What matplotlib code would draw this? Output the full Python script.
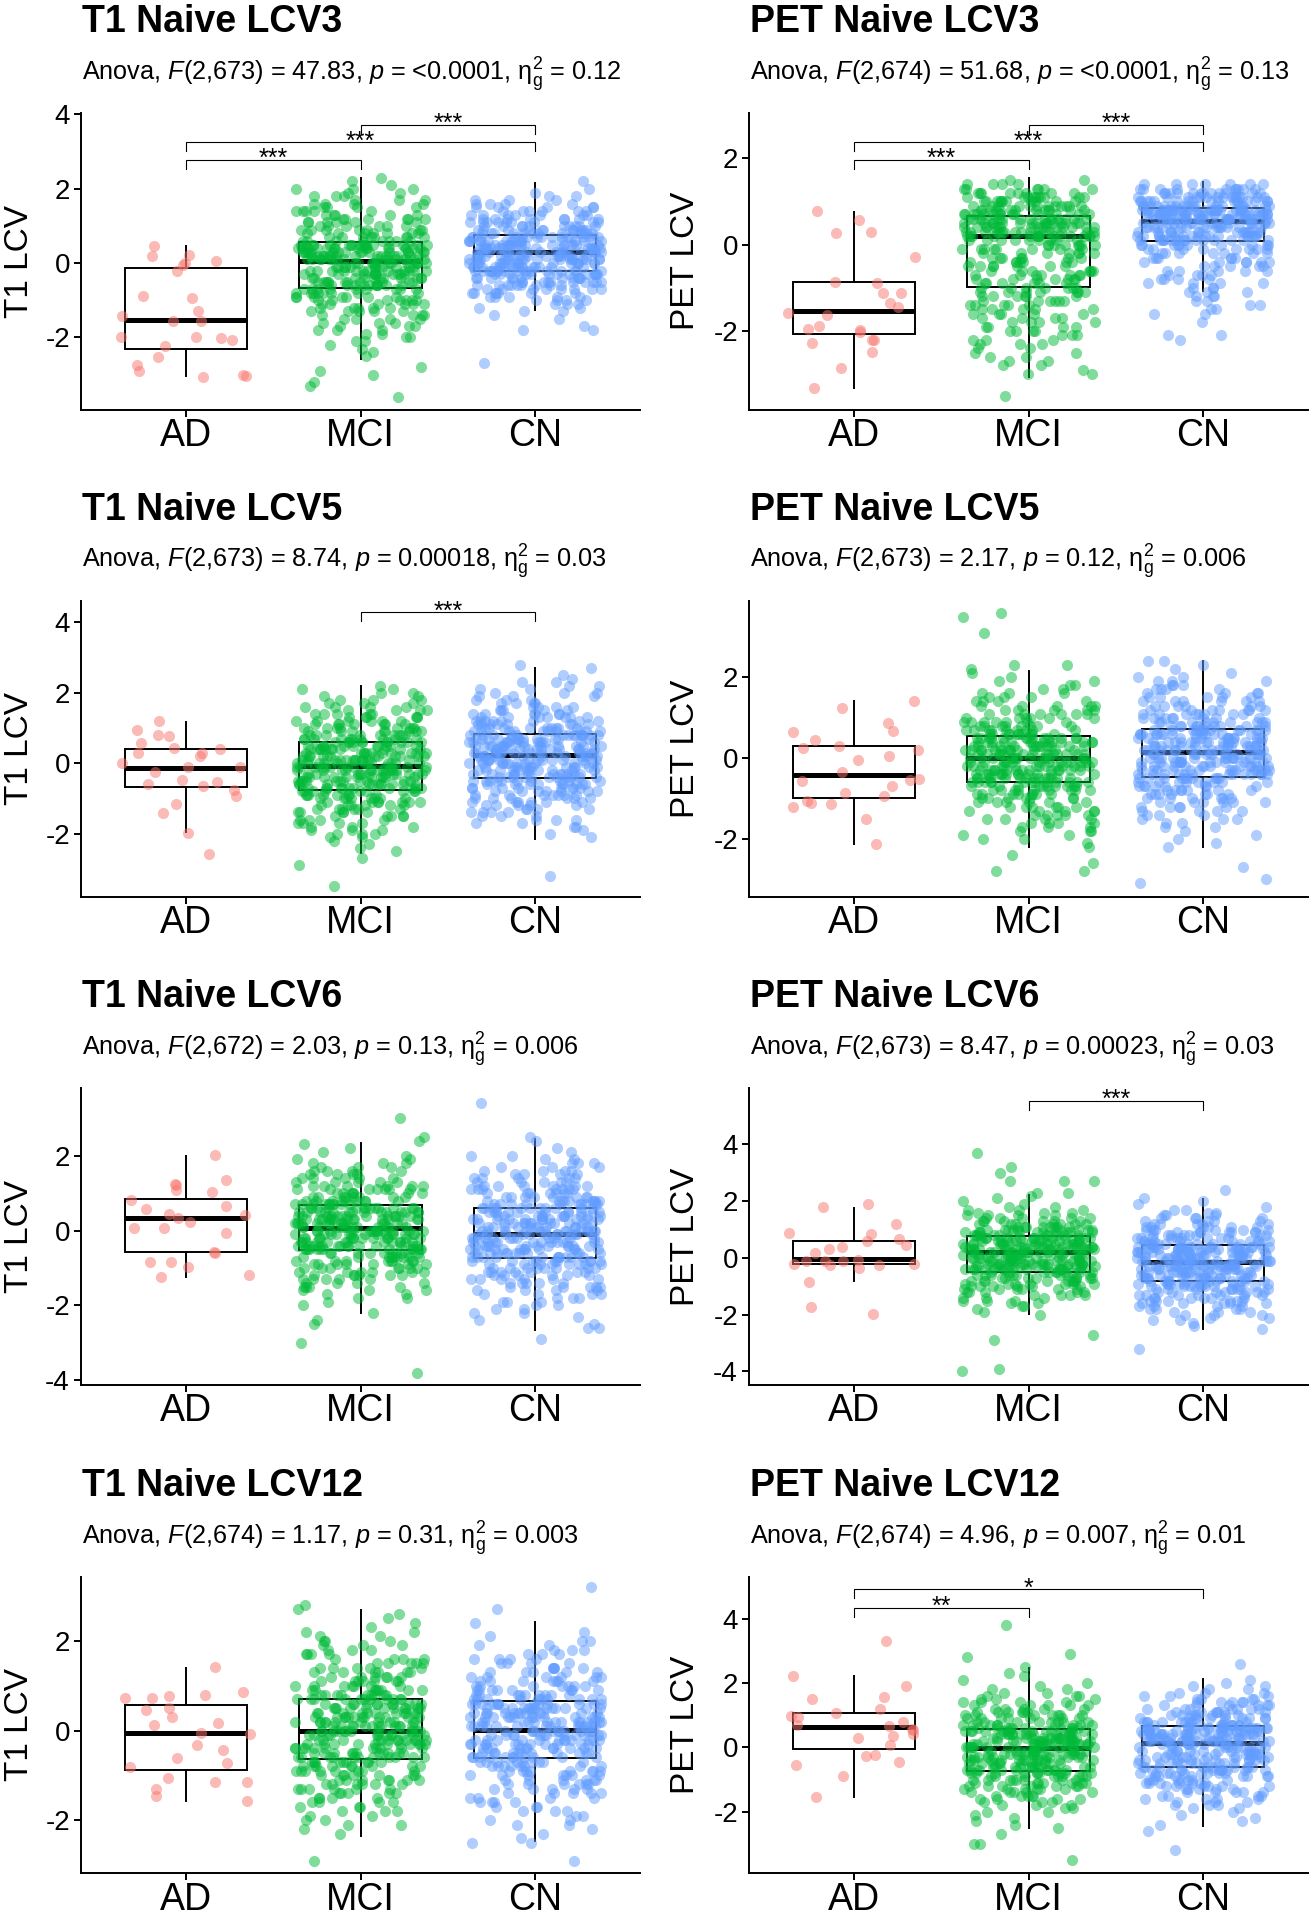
import matplotlib
matplotlib.use("Agg")
import matplotlib.pyplot as plt
import numpy as np

plt.rcParams['font.family'] = ['Liberation Sans', 'DejaVu Sans']
plt.rcParams['mathtext.fontset'] = 'custom'
plt.rcParams['mathtext.rm'] = 'Liberation Sans'
plt.rcParams['mathtext.it'] = 'Liberation Sans:italic'
plt.rcParams['mathtext.bf'] = 'Liberation Sans:bold'
plt.rcParams['axes.unicode_minus'] = False

groups = ["AD", "MCI", "CN"]
group_colors = ["#F8766D", "#00BA38", "#619CFF"]

# AD values are individual points; MCI/CN values are (value, number of points at that value)

# ---------------- T1 Naive LCV3 ----------------
t1_lcv3_ad = [0.47, -0.20, -0.93, 0.07, -0.89, 0.18, 0.00, -0.04, 0.21, -1.42, -1.28, -1.56, -1.55, -2.07,
              -2.22, -2.00, -2.02, -1.98, -2.54, -2.74, -2.90, -3.04, -3.06, -3.02]
t1_lcv3_mci = [(2.3,1),(2.2,1),(2.1,1),(2.0,3),(1.9,2),(1.8,3),(1.7,3),(1.6,4),(1.5,4),(1.4,5),(1.3,5),(1.2,6),
               (1.1,6),(1.0,6),(0.9,7),(0.8,7),(0.7,8),(0.6,8),
               (0.5,16),(0.4,16),(0.3,16),(0.2,16),(0.1,16),
               (0.0,12),(-0.1,12),(-0.2,12),(-0.3,11),(-0.4,11),(-0.5,11),(-0.6,11),
               (-0.7,9),(-0.8,8),(-0.9,7),(-1.0,7),(-1.1,6),(-1.2,5),(-1.3,5),(-1.4,4),(-1.5,4),(-1.6,3),(-1.7,3),
               (-1.8,3),(-1.9,2),(-2.0,2),(-2.1,2),(-2.2,1),(-2.3,1),(-2.4,1),(-2.5,1),(-2.8,1),(-2.9,1),(-3.0,1),
               (-3.2,1),(-3.3,1),(-3.6,1)]
t1_lcv3_cn = [(2.2,1),(2.0,1),(1.9,1),(1.8,2),(1.7,3),(1.6,4),(1.5,5),(1.4,6),(1.3,7),(1.2,8),(1.1,9),(1.0,10),
              (0.9,11),(0.8,12),
              (0.7,16),(0.6,16),(0.5,16),(0.4,16),(0.3,16),
              (0.2,16),(0.1,16),(0.0,16),(-0.1,16),(-0.2,16),
              (-0.3,13),(-0.4,11),(-0.5,10),(-0.6,9),(-0.7,8),(-0.8,7),(-0.9,5),(-1.0,4),(-1.1,3),(-1.2,2),(-1.3,2),
              (-1.4,1),(-1.5,1),(-1.7,1),(-1.8,2),(-2.7,1)]
# box stats per group: (lower whisker, Q1, median, Q3, upper whisker)
t1_lcv3_box = [(-3.04, -2.31, -1.53, -0.13, 0.45), (-2.58, -0.68, 0.05, 0.58, 2.29), (-1.26, -0.22, 0.30, 0.76, 2.16)]

# ---------------- PET Naive LCV3 ----------------
pet_lcv3_ad = [0.27, 0.78, 0.58, 0.29, -0.28, -1.11, -1.35, -0.89, -0.86, -1.12, -1.45, -1.58, -1.63, -1.95,
               -1.88, -2.03, -2.20, -2.22, -1.97, -2.29, -2.49, -2.86, -3.32]
pet_lcv3_mci = [(1.5,2),(1.4,4),(1.3,6),(1.2,8),(1.1,10),(1.0,11),(0.9,12),(0.8,13),(0.7,14),
                (0.6,16),(0.5,16),(0.4,16),(0.3,16),(0.2,16),
                (0.1,9),(0.0,8),(-0.1,8),(-0.2,7),(-0.3,7),(-0.4,7),(-0.5,7),(-0.6,7),(-0.7,7),(-0.8,7),(-0.9,6),
                (-1.0,7),(-1.1,7),(-1.2,6),(-1.3,6),(-1.4,5),(-1.5,5),(-1.6,5),(-1.7,4),(-1.8,4),(-1.9,4),(-2.0,4),
                (-2.1,3),(-2.2,3),(-2.3,3),(-2.4,2),(-2.5,2),(-2.6,2),(-2.7,2),(-2.8,2),(-2.9,1),(-3.0,2),(-3.5,1)]
pet_lcv3_cn = [(1.4,7),(1.3,10),(1.2,13),(1.1,15),(1.0,17),(0.9,18),
               (0.8,27),(0.7,27),(0.6,26),
               (0.5,16),(0.4,16),(0.3,16),(0.2,16),(0.1,16),
               (0.0,10),(-0.1,8),(-0.2,7),(-0.3,6),(-0.4,6),(-0.5,5),(-0.6,5),(-0.7,4),(-0.8,4),(-0.9,4),(-1.0,3),
               (-1.1,3),(-1.2,3),(-1.3,2),(-1.4,2),(-1.5,2),(-1.6,2),(-1.8,1),(-2.1,2),(-2.2,1)]
pet_lcv3_box = [(-3.32, -2.08, -1.54, -0.87, 0.76), (-3.07, -0.98, 0.19, 0.66, 1.54), (-1.07, 0.08, 0.54, 0.85, 1.44)]

# ---------------- T1 Naive LCV5 ----------------
t1_lcv5_ad = [0.30, 0.21, 0.76, -0.47, -0.64, -0.93, -0.76, -0.54, -0.11, -0.26, 0.30, 0.00, 0.80, 0.42,
              0.40, -0.11, -0.59, 1.21, 0.93, 0.57, -1.16, -1.42, -1.99, -2.58]
t1_lcv5_mci = [(2.2,1),(2.1,2),(2.0,2),(1.9,2),(1.8,3),(1.7,3),(1.6,4),(1.5,4),(1.4,5),(1.3,6),(1.2,6),(1.1,7),
               (1.0,8),(0.9,8),(0.8,9),(0.7,10),
               (0.6,11),(0.5,11),(0.4,11),(0.3,11),(0.2,12),(0.1,12),(0.0,12),
               (-0.1,12),(-0.2,12),(-0.3,12),(-0.4,11),(-0.5,11),(-0.6,11),(-0.7,11),
               (-0.8,9),(-0.9,8),(-1.0,8),(-1.1,7),(-1.2,6),(-1.3,6),(-1.4,5),(-1.5,5),(-1.6,4),(-1.7,4),(-1.8,3),
               (-1.9,3),(-2.0,3),(-2.1,2),(-2.2,1),(-2.3,1),(-2.4,1),(-2.5,1),(-2.7,1),(-2.9,1),(-3.5,1)]
t1_lcv5_cn = [(2.8,1),(2.7,1),(2.5,1),(2.4,1),(2.3,2),(2.2,2),(2.1,2),(2.0,3),(1.9,3),(1.8,3),(1.7,4),(1.6,4),
              (1.5,5),(1.4,6),(1.3,7),(1.2,8),(1.1,8),(1.0,9),(0.9,10),
              (0.8,14),(0.7,13),(0.6,13),(0.5,13),(0.4,13),(0.3,14),
              (0.2,12),(0.1,12),(0.0,12),(-0.1,11),(-0.2,11),(-0.3,11),(-0.4,11),
              (-0.5,10),(-0.6,9),(-0.7,8),(-0.8,7),(-0.9,7),(-1.0,6),(-1.1,6),(-1.2,5),(-1.3,4),(-1.4,4),(-1.5,3),
              (-1.6,3),(-1.7,2),(-1.8,2),(-1.9,1),(-2.0,1),(-2.1,1),(-3.2,1)]
t1_lcv5_box = [(-1.94, -0.68, -0.14, 0.41, 1.17), (-2.54, -0.76, -0.07, 0.61, 2.19), (-2.15, -0.43, 0.24, 0.83, 2.70)]

# ---------------- PET Naive LCV5 ----------------
pet_lcv5_ad = [1.42, 1.25, 0.87, 0.45, 0.06, -0.56, -1.11, -1.51, -0.55, -0.68, -0.51, -0.95, 0.24, -0.34,
               0.68, 0.64, 0.29, 0.19, -0.04, -0.87, -1.13, -1.22, -1.06, -2.12]
pet_lcv5_mci = [(3.6,1),(3.5,1),(3.1,1),(2.3,2),(2.2,1),(2.1,1),(2.0,1),(1.9,2),(1.8,2),(1.7,2),(1.6,3),(1.5,3),
                (1.4,4),(1.3,5),(1.2,5),(1.1,6),(1.0,6),(0.9,7),(0.8,8),(0.7,9),(0.6,10),
                (0.5,13),(0.4,14),(0.3,13),(0.2,13),(0.1,14),(0.0,13),
                (-0.1,13),(-0.2,14),(-0.3,13),(-0.4,13),(-0.5,14),(-0.6,13),
                (-0.7,10),(-0.8,9),(-0.9,8),(-1.0,7),(-1.1,6),(-1.2,6),(-1.3,5),(-1.4,5),(-1.5,4),(-1.6,4),
                (-1.7,3),(-1.8,3),(-1.9,2),(-2.0,2),(-2.1,1),(-2.2,1),(-2.4,1),(-2.6,1),(-2.8,2)]
pet_lcv5_cn = [(2.4,2),(2.3,1),(2.2,1),(2.1,1),(2.0,2),(1.9,3),(1.8,3),(1.7,4),(1.6,4),(1.5,5),(1.4,6),(1.3,6),
               (1.2,7),(1.1,8),(1.0,8),(0.9,9),(0.8,10),
               (0.7,13),(0.6,14),(0.5,13),(0.4,14),(0.3,13),(0.2,13),
               (0.1,13),(0.0,14),(-0.1,13),(-0.2,13),(-0.3,14),(-0.4,13),
               (-0.5,10),(-0.6,9),(-0.7,8),(-0.8,7),(-0.9,7),(-1.0,6),(-1.1,6),(-1.2,5),(-1.3,4),(-1.4,3),(-1.5,3),
               (-1.6,2),(-1.7,2),(-1.8,1),(-1.9,1),(-2.0,1),(-2.1,1),(-2.2,1),(-2.7,1),(-3.0,1),(-3.1,1)]
pet_lcv5_box = [(-2.12, -0.99, -0.41, 0.31, 1.40), (-2.21, -0.59, 0.00, 0.54, 2.16), (-2.19, -0.48, 0.14, 0.72, 2.39)]

# ---------------- T1 Naive LCV6 ----------------
t1_lcv6_ad = [2.02, 1.35, 1.08, 1.24, 1.21, 1.03, 0.82, 0.66, 0.42, 0.57, 0.33, 0.44, 0.24, 0.06, 0.06,
              -0.07, -0.60, -0.56, -0.83, -0.83, -0.98, -1.18, -1.23]
t1_lcv6_mci = [(3.0,1),(2.5,1),(2.4,1),(2.3,1),(2.2,1),(2.1,1),(2.0,1),(1.9,2),(1.8,3),(1.7,3),(1.6,4),(1.5,4),
               (1.4,5),(1.3,5),(1.2,6),(1.1,7),(1.0,7),(0.9,8),(0.8,9),(0.7,10),
               (0.6,13),(0.5,14),(0.4,13),(0.3,13),(0.2,14),(0.1,13),
               (0.0,13),(-0.1,14),(-0.2,13),(-0.3,13),(-0.4,14),(-0.5,13),
               (-0.6,10),(-0.7,9),(-0.8,8),(-0.9,7),(-1.0,7),(-1.1,6),(-1.2,6),(-1.3,5),(-1.4,4),(-1.5,4),(-1.6,3),
               (-1.7,2),(-1.8,2),(-1.9,1),(-2.0,1),(-2.2,1),(-2.4,1),(-2.5,1),(-3.0,1),(-3.8,1)]
t1_lcv6_cn = [(3.4,1),(2.5,1),(2.4,1),(2.2,1),(2.1,1),(2.0,2),(1.9,2),(1.8,3),(1.7,3),(1.6,4),(1.5,4),(1.4,5),
              (1.3,5),(1.2,6),(1.1,7),(1.0,7),(0.9,8),(0.8,9),(0.7,10),
              (0.6,11),(0.5,11),(0.4,11),(0.3,11),(0.2,12),(0.1,12),(0.0,12),
              (-0.1,12),(-0.2,12),(-0.3,12),(-0.4,11),(-0.5,11),(-0.6,11),(-0.7,11),
              (-0.8,9),(-0.9,8),(-1.0,8),(-1.1,7),(-1.2,6),(-1.3,6),(-1.4,5),(-1.5,5),(-1.6,4),(-1.7,4),(-1.8,3),
              (-1.9,3),(-2.0,2),(-2.1,2),(-2.2,2),(-2.3,1),(-2.4,1),(-2.5,1),(-2.6,2),(-2.9,1)]
t1_lcv6_box = [(-1.23, -0.58, 0.33, 0.85, 2.00), (-2.20, -0.52, 0.06, 0.68, 2.33), (-2.65, -0.72, -0.10, 0.60, 2.44)]

# ---------------- PET Naive LCV6 ----------------
pet_lcv6_ad = [1.91, 1.78, 1.21, 0.67, 0.33, 0.88, 0.47, 0.59, 0.86, 0.39, 0.18, -0.09, -0.06, -0.12, -0.35,
               -0.26, -0.26, -0.12, -0.23, -0.23, -0.84, -1.72, -1.97]
pet_lcv6_mci = [(3.7,1),(3.2,1),(3.0,1),(2.7,3),(2.3,2),(2.2,1),(2.1,1),(2.0,1),(1.9,1),(1.8,2),(1.7,3),(1.6,3),
                (1.5,4),(1.4,5),(1.3,6),(1.2,7),(1.1,8),(1.0,9),(0.9,10),(0.8,11),
                (0.7,13),(0.6,14),(0.5,13),(0.4,13),(0.3,14),(0.2,13),
                (0.1,13),(0.0,14),(-0.1,13),(-0.2,13),(-0.3,14),(-0.4,13),
                (-0.5,10),(-0.6,9),(-0.7,8),(-0.8,8),(-0.9,7),(-1.0,6),(-1.1,6),(-1.2,5),(-1.3,4),(-1.4,3),
                (-1.5,3),(-1.6,2),(-1.7,2),(-1.8,1),(-1.9,1),(-2.0,1),(-2.7,1),(-2.9,1),(-3.9,1),(-4.0,1)]
pet_lcv6_cn = [(2.4,1),(2.1,1),(2.0,1),(1.9,1),(1.8,1),(1.7,2),(1.6,2),(1.5,3),(1.4,4),(1.3,4),(1.2,5),(1.1,6),
               (1.0,6),(0.9,7),(0.8,8),(0.7,9),(0.6,9),(0.5,10),
               (0.4,13),(0.3,14),(0.2,13),(0.1,13),(0.0,14),(-0.1,13),
               (-0.2,12),(-0.3,12),(-0.4,12),(-0.5,11),(-0.6,11),(-0.7,11),(-0.8,11),
               (-0.9,10),(-1.0,9),(-1.1,8),(-1.2,7),(-1.3,7),(-1.4,6),(-1.5,6),(-1.6,5),(-1.7,4),(-1.8,4),(-1.9,3),
               (-2.0,3),(-2.1,2),(-2.2,2),(-2.3,1),(-2.4,1),(-2.5,1),(-3.2,1)]
pet_lcv6_box = [(-0.82, -0.23, -0.03, 0.61, 1.76), (-1.97, -0.49, 0.20, 0.76, 2.23), (-2.52, -0.80, -0.15, 0.45, 2.08)]

# ---------------- T1 Naive LCV12 ----------------
t1_lcv12_ad = [1.41, 0.86, 0.78, 0.73, 0.50, 0.45, 0.17, 0.12, -0.05, 0.80, 0.73, 0.30, -0.07, -0.33, -0.44,
               -0.61, -0.81, -0.72, -1.05, -1.15, -1.31, -1.15, -1.47, -1.57]
t1_lcv12_mci = [(2.8,1),(2.7,1),(2.6,1),(2.5,1),(2.4,1),(2.3,1),(2.2,2),(2.1,2),(2.0,3),(1.9,3),(1.8,3),(1.7,4),
                (1.6,4),(1.5,5),(1.4,5),(1.3,6),(1.2,6),(1.1,7),(1.0,7),(0.9,8),(0.8,9),
                (0.7,11),(0.6,11),(0.5,11),(0.4,11),(0.3,12),(0.2,12),(0.1,12),
                (0.0,12),(-0.1,12),(-0.2,12),(-0.3,11),(-0.4,11),(-0.5,11),(-0.6,11),
                (-0.7,9),(-0.8,9),(-0.9,8),(-1.0,7),(-1.1,7),(-1.2,6),(-1.3,6),(-1.4,5),(-1.5,4),(-1.6,4),(-1.7,3),
                (-1.8,3),(-1.9,2),(-2.0,2),(-2.1,2),(-2.2,1),(-2.3,1),(-2.9,1)]
t1_lcv12_cn = [(3.2,1),(2.7,1),(2.4,1),(2.2,1),(2.1,1),(2.0,2),(1.9,2),(1.8,3),(1.7,3),(1.6,4),(1.5,4),(1.4,5),
               (1.3,5),(1.2,6),(1.1,7),(1.0,7),(0.9,8),(0.8,9),(0.7,10),
               (0.6,13),(0.5,14),(0.4,13),(0.3,13),(0.2,14),(0.1,13),
               (0.0,12),(-0.1,12),(-0.2,12),(-0.3,11),(-0.4,11),(-0.5,11),(-0.6,11),
               (-0.7,9),(-0.8,8),(-0.9,8),(-1.0,7),(-1.1,6),(-1.2,6),(-1.3,5),(-1.4,5),(-1.5,4),(-1.6,4),(-1.7,3),
               (-1.8,3),(-1.9,2),(-2.0,2),(-2.1,2),(-2.2,1),(-2.3,1),(-2.4,1),(-2.5,2),(-2.9,1)]
t1_lcv12_box = [(-1.57, -0.87, -0.05, 0.56, 1.39), (-2.35, -0.63, 0.00, 0.71, 2.69), (-2.47, -0.61, 0.02, 0.67, 2.41)]

# ---------------- PET Naive LCV12 ----------------
pet_lcv12_ad = [3.30, 2.23, 1.92, 1.50, 1.55, 1.06, 0.93, 0.98, 1.19, 0.79, 0.53, 0.34, 0.41, 0.70, 0.57, 0.67,
                0.29, 0.06, -0.25, -0.26, -0.46, -0.54, -0.88, -1.55]
pet_lcv12_mci = [(3.8,1),(2.9,1),(2.8,1),(2.5,1),(2.3,1),(2.2,1),(2.1,1),(2.0,1),(1.9,1),(1.8,2),(1.7,2),(1.6,3),
                 (1.5,3),(1.4,4),(1.3,5),(1.2,5),(1.1,6),(1.0,7),(0.9,7),(0.8,8),(0.7,9),(0.6,10),
                 (0.5,13),(0.4,14),(0.3,13),(0.2,13),(0.1,14),(0.0,13),
                 (-0.1,12),(-0.2,12),(-0.3,12),(-0.4,11),(-0.5,11),(-0.6,11),(-0.7,11),
                 (-0.8,10),(-0.9,9),(-1.0,8),(-1.1,7),(-1.2,7),(-1.3,6),(-1.4,5),(-1.5,5),(-1.6,4),(-1.7,3),
                 (-1.8,3),(-1.9,2),(-2.0,2),(-2.1,1),(-2.2,1),(-2.3,1),(-2.4,1),(-2.5,1),(-2.7,1),(-3.0,2),(-3.5,1)]
pet_lcv12_cn = [(2.6,1),(2.1,1),(2.0,1),(1.9,2),(1.8,2),(1.7,3),(1.6,3),(1.5,4),(1.4,5),(1.3,6),(1.2,7),(1.1,7),
                (1.0,8),(0.9,9),(0.8,10),(0.7,11),
                (0.6,16),(0.5,16),(0.4,16),(0.3,16),(0.2,16),
                (0.1,10),(0.0,10),(-0.1,10),(-0.2,10),(-0.3,10),(-0.4,10),(-0.5,10),(-0.6,10),
                (-0.7,10),(-0.8,9),(-0.9,8),(-1.0,7),(-1.1,7),(-1.2,6),(-1.3,5),(-1.4,5),(-1.5,4),(-1.6,4),(-1.7,3),
                (-1.8,3),(-1.9,2),(-2.0,1),(-2.1,1),(-2.2,1),(-2.3,1),(-2.4,1),(-2.6,1),(-3.2,1)]
pet_lcv12_box = [(-1.54, -0.04, 0.63, 1.08, 2.22), (-2.50, -0.74, -0.02, 0.57, 2.46), (-2.45, -0.61, 0.13, 0.67, 2.12)]

# panel texts, axis settings, significance brackets (group i, group j, label, height)
titles = ["T1 Naive LCV3", "PET Naive LCV3", "T1 Naive LCV5", "PET Naive LCV5",
          "T1 Naive LCV6", "PET Naive LCV6", "T1 Naive LCV12", "PET Naive LCV12"]
subtitles = [
    r"Anova, $\mathit{F}$(2,673) = 47.83, $\mathit{p}$ = <0.0001, $\mathrm{\eta}_{\mathrm{g}}^{2}$ = 0.12",
    r"Anova, $\mathit{F}$(2,674) = 51.68, $\mathit{p}$ = <0.0001, $\mathrm{\eta}_{\mathrm{g}}^{2}$ = 0.13",
    r"Anova, $\mathit{F}$(2,673) = 8.74, $\mathit{p}$ = 0.00018, $\mathrm{\eta}_{\mathrm{g}}^{2}$ = 0.03",
    r"Anova, $\mathit{F}$(2,673) = 2.17, $\mathit{p}$ = 0.12, $\mathrm{\eta}_{\mathrm{g}}^{2}$ = 0.006",
    r"Anova, $\mathit{F}$(2,672) = 2.03, $\mathit{p}$ = 0.13, $\mathrm{\eta}_{\mathrm{g}}^{2}$ = 0.006",
    r"Anova, $\mathit{F}$(2,673) = 8.47, $\mathit{p}$ = 0.00023, $\mathrm{\eta}_{\mathrm{g}}^{2}$ = 0.03",
    r"Anova, $\mathit{F}$(2,674) = 1.17, $\mathit{p}$ = 0.31, $\mathrm{\eta}_{\mathrm{g}}^{2}$ = 0.003",
    r"Anova, $\mathit{F}$(2,674) = 4.96, $\mathit{p}$ = 0.007, $\mathrm{\eta}_{\mathrm{g}}^{2}$ = 0.01",
]
ylabels = ["T1 LCV", "PET LCV"] * 4
ylims = [(-3.94, 4.04), (-3.82, 3.05), (-3.80, 4.62), (-3.44, 3.90),
         (-4.12, 3.80), (-4.47, 5.98), (-3.18, 3.43), (-3.91, 5.30)]
yticks = [[-2, 0, 2, 4], [-2, 0, 2], [-2, 0, 2, 4], [-2, 0, 2],
          [-4, -2, 0, 2], [-4, -2, 0, 2, 4], [-2, 0, 2], [-2, 0, 2, 4]]
brackets = [
    [(1, 2, "***", 2.78), (1, 3, "***", 3.25), (2, 3, "***", 3.72)],
    [(1, 2, "***", 1.97), (1, 3, "***", 2.37), (2, 3, "***", 2.77)],
    [(2, 3, "***", 4.28)],
    [],
    [],
    [(2, 3, "***", 5.54)],
    [],
    [(1, 2, "**", 4.34), (1, 3, "*", 4.91)],
]
panel_data = [
    (t1_lcv3_ad, t1_lcv3_mci, t1_lcv3_cn, t1_lcv3_box),
    (pet_lcv3_ad, pet_lcv3_mci, pet_lcv3_cn, pet_lcv3_box),
    (t1_lcv5_ad, t1_lcv5_mci, t1_lcv5_cn, t1_lcv5_box),
    (pet_lcv5_ad, pet_lcv5_mci, pet_lcv5_cn, pet_lcv5_box),
    (t1_lcv6_ad, t1_lcv6_mci, t1_lcv6_cn, t1_lcv6_box),
    (pet_lcv6_ad, pet_lcv6_mci, pet_lcv6_cn, pet_lcv6_box),
    (t1_lcv12_ad, t1_lcv12_mci, t1_lcv12_cn, t1_lcv12_box),
    (pet_lcv12_ad, pet_lcv12_mci, pet_lcv12_cn, pet_lcv12_box),
]


def expand(pairs):
    out = []
    for v, n in pairs:
        out.extend([v] * n)
    return out


# ---------------- layout ----------------
W, H = 1313, 1920
fig = plt.figure(figsize=(W / 100, H / 100), dpi=100)
col_left = [81, 749]
ax_w = 559
row_top = [113, 600.5, 1088.3, 1576.7]
ax_h = 296.5
ylab_x = [20, 686]


def jitter(n, seed, half=0.38):
    # deterministic hash-based horizontal jitter (position only, not data)
    k = np.arange(1, n + 1) + 997.0 * seed
    u = np.abs(np.sin(k * 12.9898 + 78.233) * 43758.5453) % 1.0
    return (u - 0.5) * 2 * half


for p in range(8):
    r, c = divmod(p, 2)
    left, top = col_left[c], row_top[r]
    ax = fig.add_axes([left / W, 1 - (top + ax_h) / H, ax_w / W, ax_h / H])
    ad, mci, cn, box = panel_data[p]

    stats = []
    for g, (wlo, q1, med, q3, whi) in enumerate(box):
        stats.append(dict(label=groups[g], whislo=wlo, q1=q1, med=med, q3=q3, whishi=whi))
    ax.bxp(stats, positions=[1, 2, 3], widths=0.7, showfliers=False, showcaps=False,
           patch_artist=True,
           boxprops=dict(facecolor="white", edgecolor="black", linewidth=1.4),
           medianprops=dict(color="black", linewidth=3.6, solid_capstyle="butt"),
           whiskerprops=dict(color="black", linewidth=1.4), zorder=2)

    for g, vals in enumerate([ad, expand(mci), expand(cn)]):
        vals = np.asarray(vals, dtype=float)
        ax.scatter((g + 1) + jitter(len(vals), p * 3 + g), vals, s=64, color=group_colors[g],
                   alpha=0.5, linewidths=0, zorder=3)

    ylo, yhi = ylims[p]
    tip = 0.03 * (yhi - ylo)
    for (i, j, lab, y) in brackets[p]:
        ax.plot([i, i, j, j], [y - tip, y, y, y - tip], color="black", lw=0.8,
                zorder=4, clip_on=False, solid_joinstyle="miter")
        ax.annotate(lab, xy=((i + j) / 2, y), xytext=(0, -4.5), textcoords="offset points",
                    ha="center", va="baseline", fontsize=18, zorder=5)

    ax.set_xlim(0.4, 3.6)
    ax.set_ylim(ylo, yhi)
    ax.set_xticks([1, 2, 3])
    ax.set_xticklabels(groups, fontsize=27)
    ax.set_yticks(yticks[p])
    ax.set_yticklabels([str(t) for t in yticks[p]], fontsize=20)
    for s in ["top", "right"]:
        ax.spines[s].set_visible(False)
    for s in ["left", "bottom"]:
        ax.spines[s].set_linewidth(1.4)
    ax.tick_params(axis="both", direction="out", length=5, width=1.4, colors="black")
    ax.tick_params(axis="x", pad=1)
    ax.tick_params(axis="y", pad=3)
    ax.set_facecolor("white")

    # titles
    fig.text((left + 1) / W, 1 - (top - 81.0) / H, titles[p], fontsize=27,
             fontweight="bold", ha="left", va="baseline")
    fig.text((left + 1) / W, 1 - (top - 32.5) / H, subtitles[p], fontsize=18.2,
             ha="left", va="baseline")
    fig.text(ylab_x[c] / W, 1 - (top + ax_h / 2) / H, ylabels[p], fontsize=24,
             rotation=90, ha="center", va="center")

fig.savefig("out.png", dpi=100, facecolor="white")
